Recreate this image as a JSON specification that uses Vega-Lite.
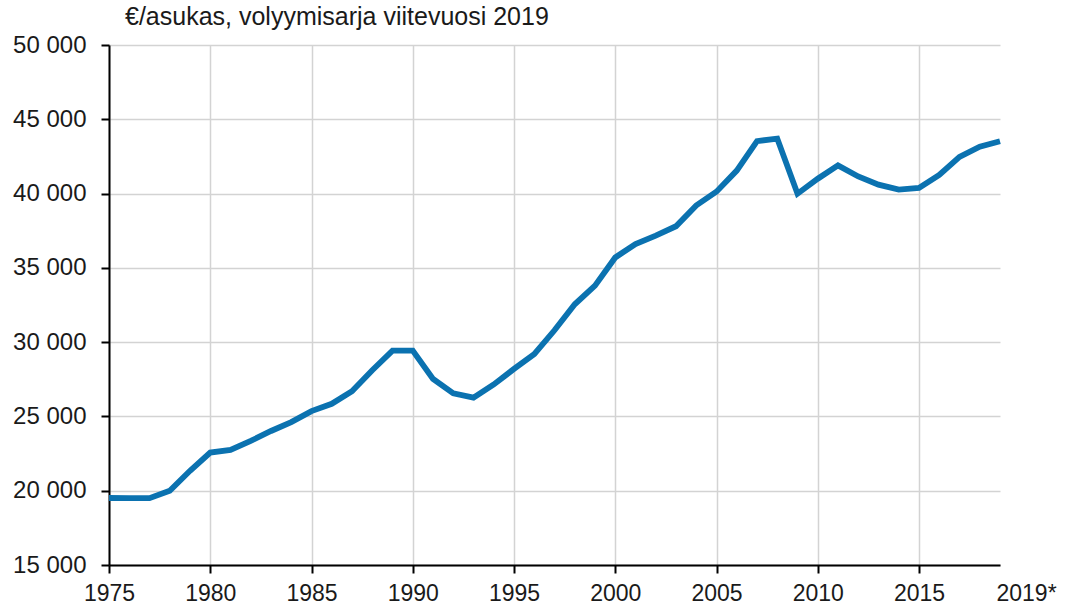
{
  "$schema": "https://vega.github.io/schema/vega-lite/v6.json",
  "width": 891,
  "height": 520,
  "autosize": "none",
  "padding": {"left": 109, "top": 45, "right": 68, "bottom": 43},
  "background": "white",
  "title": {
    "text": "€/asukas, volyymisarja viitevuosi 2019",
    "anchor": "start",
    "frame": "group",
    "dx": 16,
    "offset": 4,
    "dy": 21,
    "baseline": "alphabetic",
    "font": "Liberation Sans",
    "fontSize": 25,
    "fontWeight": "normal",
    "color": "#1a1a1a"
  },
  "data": {
    "values": [
      {"year": 1975, "value": 19510},
      {"year": 1976, "value": 19500},
      {"year": 1977, "value": 19500},
      {"year": 1978, "value": 20000},
      {"year": 1979, "value": 21340},
      {"year": 1980, "value": 22570},
      {"year": 1981, "value": 22750},
      {"year": 1982, "value": 23350},
      {"year": 1983, "value": 24020},
      {"year": 1984, "value": 24620},
      {"year": 1985, "value": 25360},
      {"year": 1986, "value": 25850},
      {"year": 1987, "value": 26700},
      {"year": 1988, "value": 28110},
      {"year": 1989, "value": 29430},
      {"year": 1990, "value": 29430},
      {"year": 1991, "value": 27530},
      {"year": 1992, "value": 26550},
      {"year": 1993, "value": 26260},
      {"year": 1994, "value": 27150},
      {"year": 1995, "value": 28200},
      {"year": 1996, "value": 29200},
      {"year": 1997, "value": 30800},
      {"year": 1998, "value": 32550},
      {"year": 1999, "value": 33800},
      {"year": 2000, "value": 35700},
      {"year": 2001, "value": 36600},
      {"year": 2002, "value": 37170},
      {"year": 2003, "value": 37800},
      {"year": 2004, "value": 39200},
      {"year": 2005, "value": 40130},
      {"year": 2006, "value": 41550},
      {"year": 2007, "value": 43530},
      {"year": 2008, "value": 43700},
      {"year": 2009, "value": 39990},
      {"year": 2010, "value": 41000},
      {"year": 2011, "value": 41900},
      {"year": 2012, "value": 41150},
      {"year": 2013, "value": 40600},
      {"year": 2014, "value": 40270},
      {"year": 2015, "value": 40380},
      {"year": 2016, "value": 41250},
      {"year": 2017, "value": 42470},
      {"year": 2018, "value": 43150},
      {"year": 2019, "value": 43520}
    ]
  },
  "mark": {"type": "line", "color": "#0b72b0", "strokeWidth": 5.8, "strokeJoin": "miter", "strokeCap": "butt"},
  "encoding": {
    "x": {
      "field": "year",
      "type": "quantitative",
      "scale": {"domain": [1975, 2019], "nice": false, "zero": false},
      "axis": {
        "title": null,
        "values": [1975, 1980, 1985, 1990, 1995, 2000, 2005, 2010, 2015, 2019],
        "labelExpr": "datum.value == 2019 ? '2019*' : format(datum.value, 'd')",
        "labelFlush": false,
        "labelAlign": {"condition": {"test": "datum.value == 2019", "value": "left"}, "value": "center"},
        "labelOffset": {"condition": {"test": "datum.value == 2019", "value": -4}, "value": 0},
        "grid": true,
        "gridColor": {"condition": {"test": "datum.value == 2019", "value": "transparent"}, "value": "#d3d3d3"},
        "gridWidth": 1.5,
        "tickColor": {"condition": {"test": "datum.value == 2019", "value": "transparent"}, "value": "#000000"},
        "tickSize": 8,
        "tickWidth": 2,
        "domainColor": "#000000",
        "domainWidth": 2,
        "labelFont": "Liberation Sans",
        "labelFontSize": 23,
        "labelColor": "#1a1a1a",
        "labelPadding": 9
      }
    },
    "y": {
      "field": "value",
      "type": "quantitative",
      "scale": {"domain": [15000, 50000], "nice": false, "zero": false},
      "axis": {
        "title": null,
        "values": [15000, 20000, 25000, 30000, 35000, 40000, 45000, 50000],
        "labelExpr": "replace(format(datum.value, ','), ',', ' ')",
        "grid": true,
        "gridColor": "#d3d3d3",
        "gridWidth": 1.5,
        "tickColor": "#000000",
        "tickSize": 8,
        "tickWidth": 2,
        "domainColor": "#000000",
        "domainWidth": 2,
        "labelFont": "Liberation Sans",
        "labelFontSize": 24,
        "labelColor": "#1a1a1a",
        "labelPadding": 15
      }
    }
  },
  "config": {"view": {"stroke": null}}
}
